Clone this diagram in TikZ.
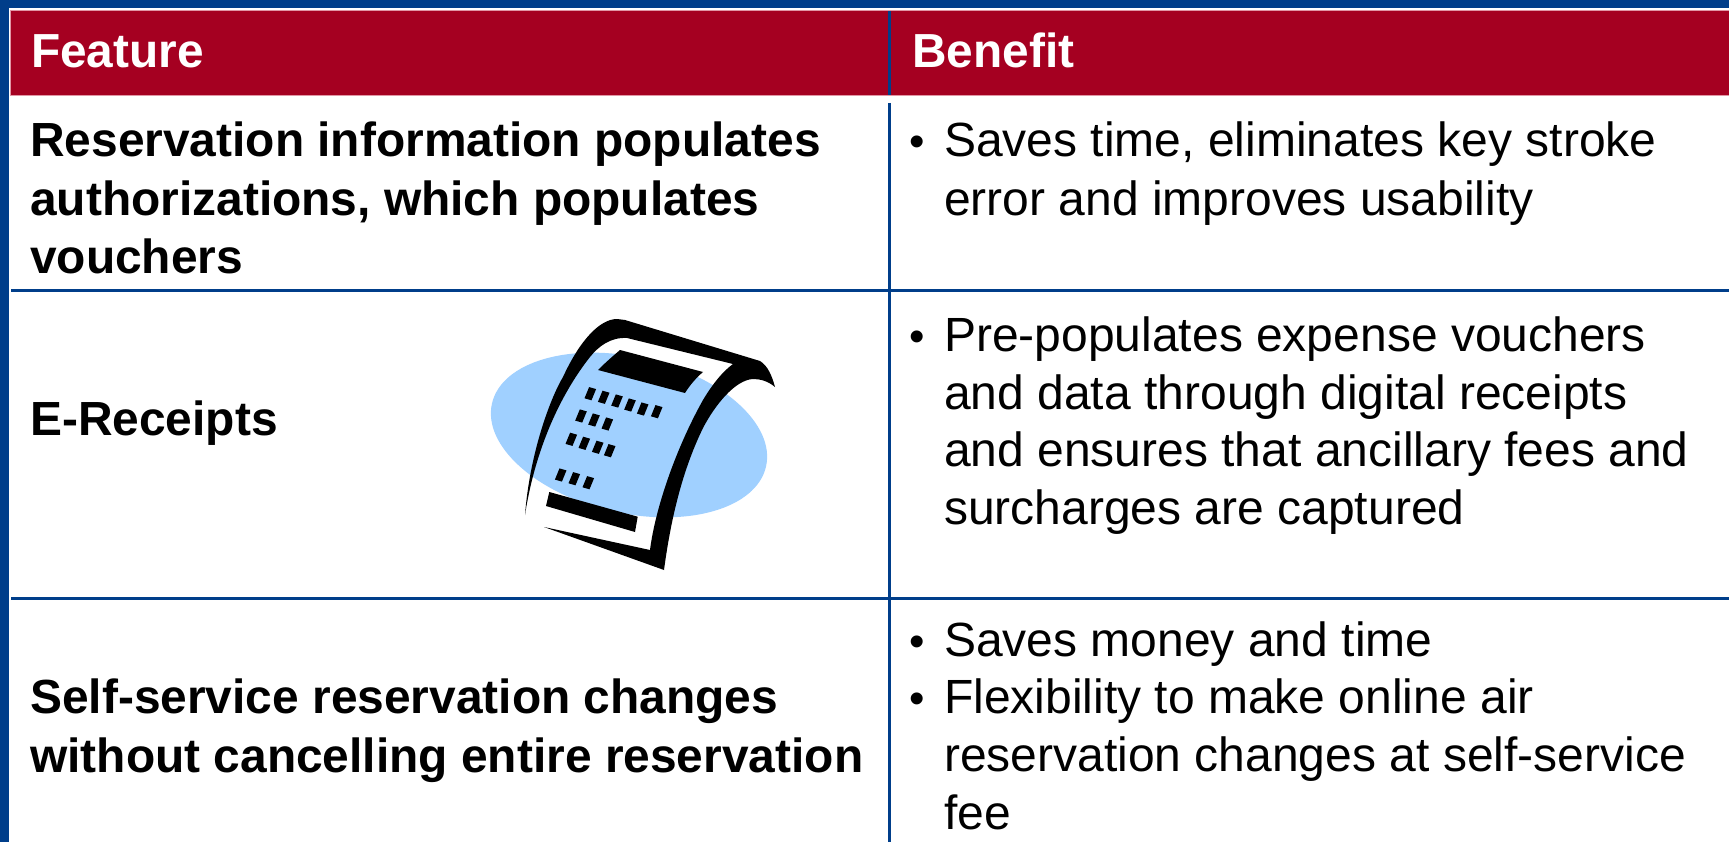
\documentclass[tikz,border=0pt]{standalone}
\usepackage{fontspec}
\setmainfont{Liberation Sans}
\definecolor{frameblue}{RGB}{0,62,138}
\definecolor{headred}{RGB}{165,0,33}
\definecolor{pinkedge}{RGB}{225,150,165}
\definecolor{skyblue}{RGB}{160,208,255}
\newcommand{\cell}[1]{\fill[black] ($(#1)+(3.5,1)+(2.3,-5.6)$) -- ($(#1)+(-3.5,-1)+(2.3,-5.6)$) -- ($(#1)+(-3.5,-1)+(-2.3,5.6)$) -- ($(#1)+(3.5,1)+(-2.3,5.6)$) -- cycle;}
\usetikzlibrary{calc}
\tikzset{
  x=1pt,y=-1pt,
  headtext/.style={anchor=base west,inner sep=0pt,text=white,font=\fontsize{47.8}{52}\selectfont\bfseries},
  feat/.style={anchor=base west,inner sep=0pt,text=black,font=\fontsize{47.9}{52}\selectfont\bfseries},
  ben/.style={anchor=base west,inner sep=0pt,text=black,font=\fontsize{48}{52}\selectfont},
  bul/.style={anchor=base west,inner sep=0pt,text=black,font=\fontsize{44}{48}\selectfont},
  grid/.style={draw=frameblue,line width=3pt},
}
\begin{document}
\begin{tikzpicture}
\useasboundingbox (0,0) rectangle (1729,842);
\fill[white] (0,0) rectangle (1729,842);
% frame
\fill[frameblue] (0,0) rectangle (1729,8.5);
\fill[frameblue] (0,0) rectangle (8.5,842);
\fill[pinkedge] (10,10) rectangle (1729,96);
\fill[headred] (11,11) rectangle (1729,95);
% grid
\draw[grid] (11,291) -- (1729,291);
\draw[grid] (11,598.5) -- (1729,598.5);
\draw[grid] (889.7,11) -- (889.7,95);
\draw[grid] (889.7,103) -- (889.7,842);
% clip art
\fill[skyblue,rotate around={-13:(629,435)}] (629,435) ellipse [x radius=140.6,y radius=78];
\fill[black] (525,515)
  .. controls (530,450) and (552,395) .. (563,377)
  .. controls (580,340) and (600,319) .. (617,319)
  -- (625,320) -- (760,361)
  .. controls (768,366) and (772,376) .. (775,387)
  .. controls (768,381) and (760,379) .. (753,379)
  .. controls (735,380) and (715,405) .. (703,428)
  .. controls (685,465) and (672,510) .. (664,570)
  -- (544,527) -- (650,550)
  .. controls (655,510) and (675,450) .. (703,400)
  .. controls (712,385) and (722,372) .. (733,364)
  -- (627,338)
  .. controls (610,337) and (598,347) .. (590,357)
  .. controls (560,395) and (535,450) .. (525,515) -- cycle;
\fill[black] (620,350) -- (703,372) .. controls (696,378) and (690,385) .. (685,393) -- (598,370) .. controls (606,362) and (613,356) .. (620,350) -- cycle;
\fill[black] (549.3,492) -- (637.7,516.7) -- (635,532) -- (546,506) -- cycle;
\foreach \c in {{590.3,393.7},{603.7,397.3},{617,401},{630,405},{642.7,409},{656.7,411.7},
  {581,416},{594,420},{607.3,424},
  {571.3,439.3},{584.3,443.3},{597.7,447.3},{609.7,450.7},
  {560.7,475},{574.3,478.7},{588.3,482.7}} {\cell{\c}}
% text
\node[headtext] (hf) at (31,67.5) {Feature};
\node[headtext] (hb) at (912,67.5) {Benefit};
\node[feat] (f1a) at (30,157) {Reservation information populates};
\node[feat] (f1b) at (30,215.5) {authorizations, which populates};
\node[feat] (f1c) at (30,273) {vouchers};
\node[feat] (f2) at (30,435) {E-Receipts};
\node[feat] (f3a) at (30,713) {Self-service reservation changes};
\node[feat] (f3b) at (30,772) {without cancelling entire reservation};
\node[bul] (b1) at (909.5,157) {•};
\node[ben] (b1a) at (944,157) {Saves time, eliminates key stroke};
\node[ben] (b1b) at (944,215.5) {error and improves usability};
\node[bul] (b2) at (909.5,351.5) {•};
\node[ben] (b2a) at (944,351.5) {Pre-populates expense vouchers};
\node[ben] (b2b) at (944,409) {and data through digital receipts};
\node[ben] (b2c) at (944,466.5) {and ensures that ancillary fees and};
\node[ben] (b2d) at (944,524) {surcharges are captured};
\node[bul] (b3) at (909.5,656) {•};
\node[ben] (b3a) at (944,656) {Saves money and time};
\node[bul] (b4) at (909.5,713) {•};
\node[ben] (b4a) at (944,713) {Flexibility to make online air};
\node[ben] (b4b) at (944,771) {reservation changes at self-service};
\node[ben] (b4c) at (944,829.5) {fee};
\end{tikzpicture}
\end{document}
